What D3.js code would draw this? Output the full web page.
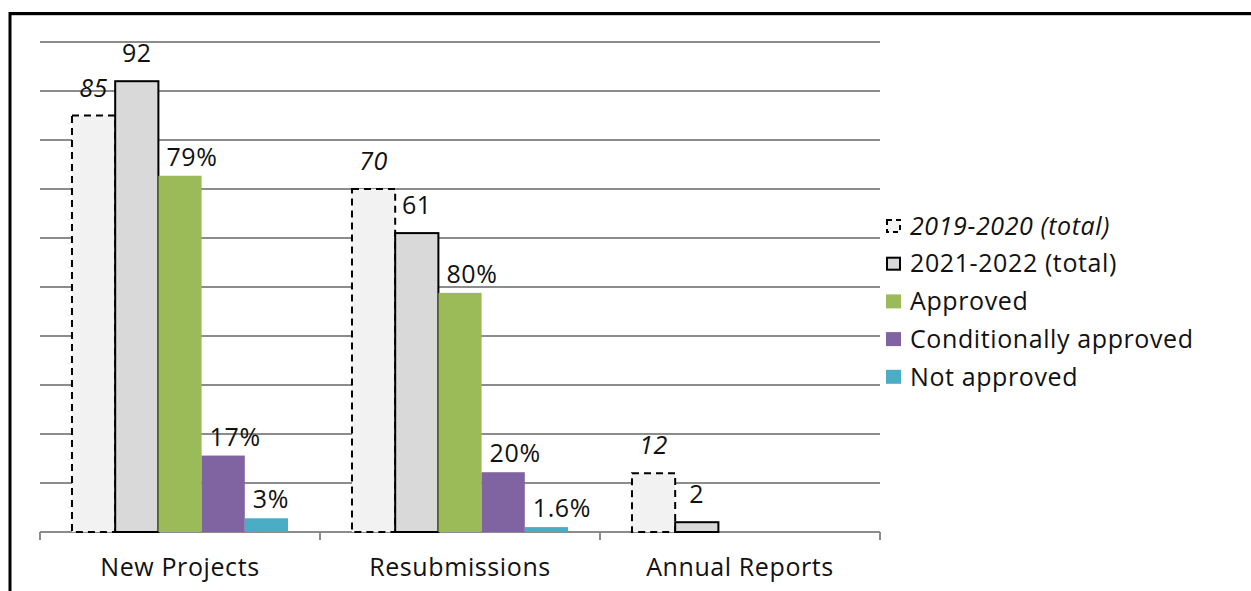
<!DOCTYPE html>
<html>
<head>
<meta charset="utf-8">
<script src="https://cdn.jsdelivr.net/npm/d3@7"></script>
<style>
    body { margin: 0; background: #fff; }
    text { font-family: "Open Sans", "Noto Sans", sans-serif; fill: #111; font-size: 25px; letter-spacing: 0.6px; }
</style>
</head>
<body>
<div id="chart"></div>
<script>
// categories and series
const categories = ["New Projects", "Resubmissions", "Annual Reports"];
const seriesNames = ["2019-2020 (total)", "2021-2022 (total)", "Approved", "Conditionally approved", "Not approved"];

// counts (approval bars are shares of the 2021-2022 total)
const total2019 = [85, 70, 12];
const total2021 = [92, 61, 2];
const approved = [72.7, 48.8, null];
const conditional = [15.6, 12.2, null];
const notApproved = [2.8, 1.0, null];

// label texts
const approvedLabels = ["79%", "80%", ""];
const conditionalLabels = ["17%", "20%", ""];
const notApprovedLabels = ["3%", "1.6%", ""];

const yTicks = [0, 10, 20, 30, 40, 50, 60, 70, 80, 90, 100];

const width = 1251;
const height = 591;
const margin = { top: 42, left: 40, right: 371, bottom: 59 };

const svg = d3.select("#chart")
    .append("svg")
    .attr("width", width)
    .attr("height", height);

// outer frame
svg.append("line")
    .attr("x1", 9).attr("x2", width).attr("y1", 15).attr("y2", 15)
    .attr("stroke", "#999").attr("stroke-width", 1);
svg.append("path")
    .attr("d", `M10,${height}V13.5H${width}`)
    .attr("fill", "none")
    .attr("stroke", "#000")
    .attr("stroke-width", 3);

const x = d3.scaleBand()
    .domain(categories)
    .range([margin.left, width - margin.right]);

const xInner = d3.scaleBand()
    .domain(seriesNames)
    .range([0, x.bandwidth()])
    .paddingOuter(0.74);

const y = d3.scaleLinear()
    .domain([0, 100])
    .range([height - margin.bottom, margin.top]);

// gridlines
svg.append("g")
    .selectAll("line")
    .data(yTicks.slice(1))
    .enter().append("line")
    .attr("x1", margin.left)
    .attr("x2", width - margin.right)
    .attr("y1", d => y(d))
    .attr("y2", d => y(d))
    .attr("stroke", "#8c8c8c")
    .attr("stroke-width", 2);

// x axis
const xAxis = svg.append("g")
    .attr("transform", `translate(0,${y(0)})`);
xAxis.append("line")
    .attr("x1", margin.left).attr("x2", width - margin.right)
    .attr("stroke", "#8c8c8c").attr("stroke-width", 2);
xAxis.selectAll(".tick")
    .data([...categories.map(c => x(c)), x(categories[categories.length - 1]) + x.bandwidth()])
    .enter().append("line")
    .attr("x1", d => d).attr("x2", d => d)
    .attr("y1", 0).attr("y2", 8)
    .attr("stroke", "#8c8c8c").attr("stroke-width", 2);
xAxis.selectAll(".cat")
    .data(categories)
    .enter().append("text")
    .attr("x", d => x(d) + x.bandwidth() / 2)
    .attr("y", 44)
    .attr("text-anchor", "middle")
    .text(d => d);

const seriesData = [
    { name: seriesNames[0], values: total2019, fill: "#f2f2f2", stroke: "#000", dash: "7,5" },
    { name: seriesNames[1], values: total2021, fill: "#d9d9d9", stroke: "#000", dash: null },
    { name: seriesNames[2], values: approved, fill: "#9bbb59", stroke: null, labels: approvedLabels },
    { name: seriesNames[3], values: conditional, fill: "#8064a2", stroke: null, labels: conditionalLabels },
    { name: seriesNames[4], values: notApproved, fill: "#4bacc6", stroke: null, labels: notApprovedLabels }
];

// bars
seriesData.forEach((s, si) => {
    const bars = s.values.map((v, i) => ({ cat: categories[i], value: v, label: s.labels ? s.labels[i] : String(v) }))
        .filter(d => d.value !== null);

    svg.append("g")
        .selectAll("rect")
        .data(bars)
        .enter().append("rect")
        .attr("x", d => x(d.cat) + xInner(s.name))
        .attr("y", d => y(d.value))
        .attr("width", xInner.bandwidth())
        .attr("height", d => y(0) - y(d.value))
        .attr("fill", s.fill)
        .attr("stroke", s.stroke)
        .attr("stroke-width", s.stroke ? 2 : 0)
        .attr("stroke-dasharray", s.dash);

    // value labels
    svg.append("g")
        .selectAll("text")
        .data(bars)
        .enter().append("text")
        .attr("x", d => s.labels ? x(d.cat) + xInner(s.name) + 8 : x(d.cat) + xInner(s.name) + xInner.bandwidth() / 2)
        .attr("y", d => s.labels ? y(d.value) - 10 : y(d.value) - 19)
        .attr("text-anchor", s.labels ? "start" : "middle")
        .style("font-style", si === 0 ? "italic" : "normal")
        .text(d => d.label);
});

// legend
const legend = svg.append("g")
    .attr("transform", "translate(886,226)");

const item = legend.selectAll("g")
    .data(seriesData)
    .enter().append("g")
    .attr("transform", (d, i) => `translate(0,${i * 37.7})`);

item.append("rect")
    .attr("x", d => d.stroke ? 1 : 0)
    .attr("y", d => d.stroke ? -6 : -7)
    .attr("width", d => d.stroke ? 13 : 15)
    .attr("height", d => d.stroke ? 12 : 14)
    .attr("fill", d => d.fill)
    .attr("stroke", d => d.stroke)
    .attr("stroke-width", d => d.stroke ? 2 : 0)
    .attr("stroke-dasharray", d => d.dash ? "5,4" : null);

item.append("text")
    .attr("x", 24)
    .attr("dy", "0.35em")
    .style("font-style", (d, i) => i === 0 ? "italic" : "normal")
    .text(d => d.name);
</script>
</body>
</html>
